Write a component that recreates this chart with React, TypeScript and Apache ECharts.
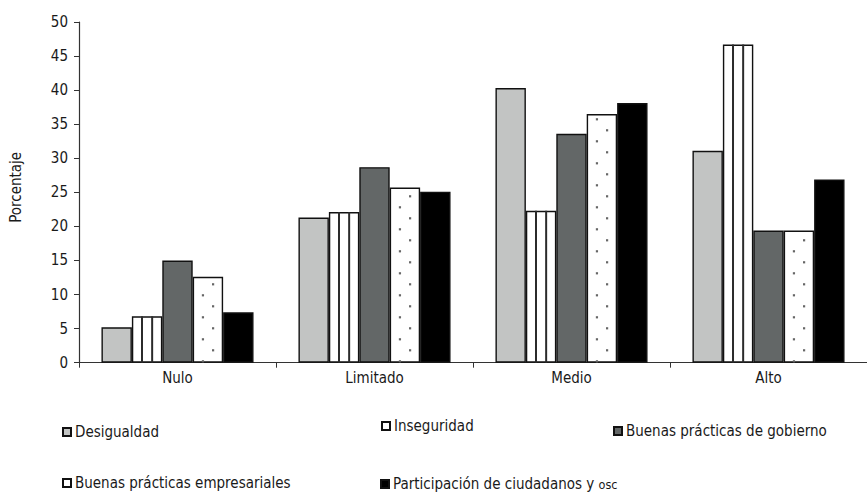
import React, { useEffect, useRef } from "react";
import * as echarts from "echarts";

const categories = ["Nulo", "Limitado", "Medio", "Alto"];
const desigualdad = [5.2, 21.3, 40.3, 31.1];
const inseguridad = [6.8, 22.1, 22.3, 46.7];
const gobierno = [15.0, 28.7, 33.6, 19.4];
const empresariales = [12.6, 25.7, 36.5, 19.4];
const participacion = [7.4, 25.1, 38.1, 26.9];
const yTicks = [0, 5, 10, 15, 20, 25, 30, 35, 40, 45, 50];

const seriesNames = [
  "Desigualdad",
  "Inseguridad",
  "Buenas prácticas de gobierno",
  "Buenas prácticas empresariales",
  "Participación de ciudadanos y osc",
];

const FONT = "'DejaVu Sans Condensed', 'Liberation Sans Narrow', 'Roboto', sans-serif";
const CAT_GAP = 0.228;
const BAR_COUNT = 5;

// Position of a grouped bar (series slot `slot`) inside its category band
function barRect(api: any, slot: number) {
  const idx = api.value(0);
  const val = api.value(1);
  const base = api.coord([idx, 0]);
  const top = api.coord([idx, val]);
  const band = api.size([1, 0])[0];
  const groupW = band * (1 - CAT_GAP);
  const bw = groupW / BAR_COUNT;
  const x0 = base[0] - groupW / 2 + slot * bw;
  return { x0, bw, bottom: base[1], top: top[1] };
}

function stripeItem(_params: any, api: any) {
  const { x0, bw, bottom, top } = barRect(api, 1);
  const children = [1, 2].map((k) => ({
    type: "line",
    shape: { x1: x0 + (bw * k) / 3, y1: top, x2: x0 + (bw * k) / 3, y2: bottom },
    style: { stroke: "#2b2b2b", lineWidth: 2 },
  }));
  return { type: "group", children };
}

function dotItem(_params: any, api: any) {
  const { x0, bw, bottom, top } = barRect(api, 3);
  const children: any[] = [];
  const cols = [
    { x: x0 + bw / 3, start: 1.5 },
    { x: x0 + (2 * bw) / 3, start: 12.5 },
  ];
  cols.forEach((c) => {
    for (let y = bottom - c.start; y > top + 3; y -= 22) {
      children.push({
        type: "rect",
        shape: { x: c.x - 1, y: y - 1, width: 2.2, height: 2.2 },
        style: { fill: "#666" },
      });
    }
  });
  return { type: "group", children };
}

const legendPos = [
  { left: 62, top: 423 },
  { left: 381, top: 417 },
  { left: 613, top: 422 },
  { left: 62, top: 474 },
  { left: 380, top: 475 },
];

export default function App() {
  const ref = useRef<HTMLDivElement>(null);

  useEffect(() => {
    if (!ref.current) return;
    const chart = echarts.init(ref.current, null, { renderer: "svg" });

    const barStyle = (color: string) => ({
      color,
      borderColor: "#111",
      borderWidth: 1.4,
    });

    const values = [desigualdad, inseguridad, gobierno, empresariales, participacion];
    const colors = ["#c2c4c3", "#ffffff", "#636767", "#ffffff", "#000000"];

    const barSeries = values.map((data, i) => ({
      name: seriesNames[i],
      type: "bar",
      data,
      barGap: "0%",
      barCategoryGap: CAT_GAP * 100 + "%",
      itemStyle: barStyle(colors[i]),
      emphasis: { disabled: true },
      z: 2,
    }));

    chart.setOption({
      animation: false,
      textStyle: { fontFamily: FONT },
      grid: { left: 78, top: 22, width: 792, height: 340.7 },
      legend: seriesNames.map((name, i) => ({
        data: [name],
        left: legendPos[i].left,
        top: legendPos[i].top,
        padding: 0,
        icon: "rect",
        itemWidth: 8,
        itemHeight: 8,
        selectedMode: false,
        // "osc" is set smaller, as small capitals
        formatter: (n: string) => n.replace(/ osc$/, " {s|osc}"),
        textStyle: {
          fontFamily: FONT,
          fontSize: 15,
          lineHeight: 18,
          color: "#1a1a1a",
          padding: [0, 0, 0, -1],
          rich: {
            s: { fontFamily: FONT, fontSize: 12.5, lineHeight: 18, color: "#1a1a1a", padding: [1, 0, 0, 0] },
          },
        },
      })),
      xAxis: {
        type: "category",
        data: categories,
        axisLine: { lineStyle: { color: "#333", width: 1.2 } },
        axisTick: { show: true, length: 5, lineStyle: { color: "#333" } },
        axisLabel: { fontSize: 15, color: "#1a1a1a", margin: 8, fontFamily: FONT },
      },
      yAxis: {
        type: "value",
        min: 0,
        max: 50,
        interval: 5,
        name: "Porcentaje",
        nameLocation: "middle",
        nameGap: 56,
        nameRotate: 90,
        nameTextStyle: { fontSize: 15, color: "#1a1a1a", fontFamily: FONT, padding: [0, 0, 0, 10] },
        axisLine: { show: true, lineStyle: { color: "#333", width: 1.2 } },
        axisTick: { show: true, length: 5, lineStyle: { color: "#333" } },
        splitLine: { show: false },
        axisLabel: {
          fontSize: 15,
          color: "#1a1a1a",
          margin: 11,
          fontFamily: FONT,
          formatter: (v: number) => (yTicks.includes(v) ? String(v) : ""),
        },
      },
      series: [
        ...barSeries,
        {
          name: "inseguridad-rayas",
          type: "custom",
          renderItem: stripeItem,
          data: inseguridad.map((v, i) => [i, v]),
          encode: { x: 0, y: 1 },
          z: 3,
          silent: true,
        },
        {
          name: "empresariales-puntos",
          type: "custom",
          renderItem: dotItem,
          data: empresariales.map((v, i) => [i, v]),
          encode: { x: 0, y: 1 },
          z: 3,
          silent: true,
        },
      ],
    });

    return () => chart.dispose();
  }, []);

  return (
    <div
      ref={ref}
      style={{ position: "fixed", left: 0, top: 0, width: 867, height: 500, background: "#fff" }}
    />
  );
}
